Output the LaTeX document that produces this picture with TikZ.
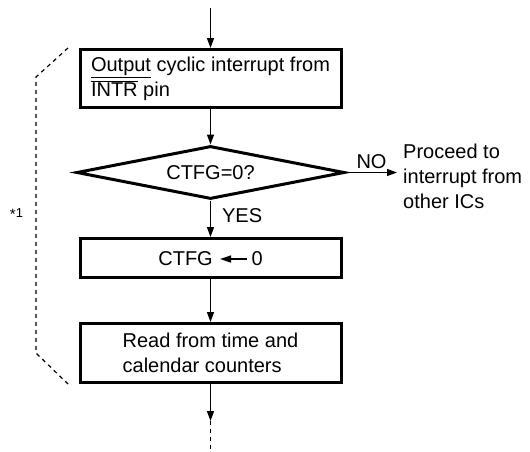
\documentclass[tikz,border=0pt]{standalone}
\usepackage{fontspec}
\setmainfont{Liberation Sans}
\usetikzlibrary{shapes.geometric,arrows.meta}
\newcommand\myovl[1]{\ensuremath{\overline{\hbox{#1}}}}
\begin{document}
\begin{tikzpicture}[x=1pt,y=-1pt,
  bigfont/.style={font=\fontsize{20}{25}\selectfont},
  stepbox/.style={draw,line width=3pt,minimum width=261pt,inner sep=0pt,align=left,bigfont},
  decbox/.style={draw,diamond,aspect=5,line width=3pt,minimum width=268pt,minimum height=53pt,inner sep=0pt,bigfont},
  arr/.style={line width=1.3pt,-{Triangle[length=10pt,width=7pt]}},
  dsh/.style={line width=1.2pt,dash pattern=on 4pt off 4pt}]
\useasboundingbox (0,0) rectangle (530,451);
\coordinate (top) at (210.5,8);
\node[stepbox,minimum height=58pt] (b1) at (210.5,78.5) {\underline{Output} cyclic interrupt from\\\myovl{INTR} pin};
\node[decbox] (d) at (210.5,172.5) {CTFG=0?};
\node[stepbox,minimum height=39pt] (b2) at (210.5,258) {};
\node[bigfont,inner sep=0pt,anchor=east] (ct) at (213,259) {CTFG};
\node[bigfont,inner sep=0pt,anchor=west] (zero) at (251.5,259) {0};
\node[stepbox,minimum height=59pt] (b3) at (210.5,353) {Read from time and\\calendar counters};
\node[bigfont,inner sep=0pt,anchor=west,align=left] (pr) at (403,176) {Proceed to\\interrupt from\\other ICs};
\coordinate (endc) at (210.5,421);
\coordinate (bot) at (210.5,451);
\draw[arr] (top) -- (b1.north);
\draw[arr] (b1.south) -- (d.north);
\draw[arr] (d.east) -- ([xshift=-6pt]pr.west |- d.east) node[midway,above=3pt,bigfont,inner sep=0pt] (no) {NO};
\draw[arr] (d.south) -- (b2.north) node[pos=0.42,right=11pt,bigfont,inner sep=0pt] (yes) {YES};
\draw[line width=1.3pt,-{Triangle[length=11pt,width=7pt]}] ([xshift=-4.5pt]zero.west) -- ([xshift=7pt]ct.east);
\draw[arr] (b2.south) -- (b3.north);
\draw[arr] (b3.south) -- (endc);
\draw[dsh] (endc) -- (bot);
\draw[dsh] (68,48) -- (36,77) -- (36,353) -- (68,384);
\node[font=\fontsize{13}{15}\selectfont,inner sep=0pt] (star) at (16.5,214) {\raisebox{-2.5pt}{\fontsize{15}{15}\selectfont *}1};
\end{tikzpicture}
\end{document}
